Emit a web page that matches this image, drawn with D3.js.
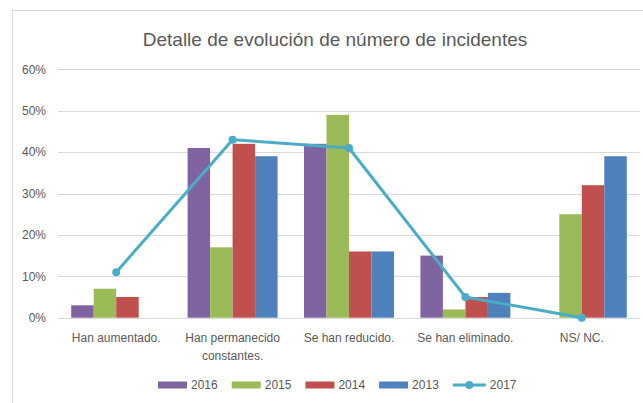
<!DOCTYPE html>
<html>
<head>
<meta charset="utf-8">
<script src="https://cdn.jsdelivr.net/npm/d3@7"></script>
<style>
  body { margin: 0; background: #fff; }
  text { font-family: "Liberation Sans", Arial, sans-serif; fill: #595959; }
</style>
</head>
<body>
<div id="chart"></div>
<script>
// Datos del gráfico
const categorias = [["Han aumentado."], ["Han permanecido", "constantes."], ["Se han reducido."], ["Se han eliminado."], ["NS/ NC."]];
const series = ["2016", "2015", "2014", "2013"];
const valores2016 = [3, 41, 42, 15, null];
const valores2015 = [7, 17, 49, 2, 25];
const valores2014 = [5, 42, 16, 5, 32];
const valores2013 = [null, 39, 16, 6, 39];
const valores2017 = [11, 43, 41, 5, 0];
const ticksY = [0, 10, 20, 30, 40, 50, 60];
const titulo = "Detalle de evolución de número de incidentes";

const barras = [valores2016, valores2015, valores2014, valores2013];
const colores = ["#8064A2", "#9BBB59", "#C0504D", "#4F81BD"];
const colorLinea = "#4BACC6";

const width = 643, height = 403;
const margin = { top: 69.3, right: 3, bottom: 85.3, left: 58 };

const svg = d3.select("#chart").append("svg")
    .attr("width", width)
    .attr("height", height);

// Borde del área del gráfico
svg.append("rect")
    .attr("x", 12.5).attr("y", 10.5)
    .attr("width", 700).attr("height", 500)
    .attr("fill", "none")
    .attr("stroke", "#D9D9D9");

svg.append("text")
    .attr("x", 335).attr("y", 46)
    .attr("text-anchor", "middle")
    .style("font-size", "19px")
    .style("font-weight", 300)
    .text(titulo);

const claves = categorias.map((c, i) => "c" + i);

const x0 = d3.scaleBand()
    .domain(claves)
    .range([margin.left, width - margin.right])
    .padding(0);

const x1 = d3.scaleBand()
    .domain(series)
    .range([0, x0.bandwidth()])
    .paddingInner(0)
    .paddingOuter(0.587);

const y = d3.scaleLinear()
    .domain([0, 60])
    .range([height - margin.bottom, margin.top]);

// Líneas de cuadrícula
svg.append("g")
    .selectAll("line")
    .data(ticksY)
    .enter().append("line")
    .attr("x1", margin.left)
    .attr("x2", width - margin.right)
    .attr("y1", d => Math.round(y(d)) + 0.5)
    .attr("y2", d => Math.round(y(d)) + 0.5)
    .attr("stroke", "#D9D9D9")
    .attr("stroke-width", 1);

// Eje Y
const ejeY = svg.append("g")
    .attr("transform", `translate(${margin.left},0)`)
    .call(d3.axisLeft(y).tickValues(ticksY).tickFormat(d => d + "%").tickSize(0).tickPadding(12));
ejeY.select(".domain").remove();
ejeY.selectAll("text").style("font-size", "12px").attr("fill", "#595959").style("font-family", null);

// Eje X (etiquetas en dos líneas)
const ejeX = svg.append("g")
    .attr("transform", `translate(0,${height - margin.bottom})`)
    .call(d3.axisBottom(x0).tickSize(0).tickFormat(""));
ejeX.select(".domain").remove();
ejeX.selectAll(".tick").each(function(d, i) {
    const t = d3.select(this).append("text")
        .attr("text-anchor", "middle")
        .attr("y", 24)
        .style("font-size", "12px");
    categorias[i].forEach((linea, j) => {
        t.append("tspan").attr("x", 0).attr("dy", j === 0 ? 0 : 18).text(linea);
    });
});

// Barras
barras.forEach((vals, s) => {
    svg.append("g")
        .selectAll("rect")
        .data(vals.map((v, i) => ({ cat: claves[i], v })).filter(d => d.v !== null))
        .enter().append("rect")
        .attr("x", d => x0(d.cat) + x1(series[s]))
        .attr("y", d => y(d.v))
        .attr("width", x1.bandwidth())
        .attr("height", d => y(0) - y(d.v))
        .attr("fill", colores[s]);
});

// Línea 2017
const puntos = valores2017.map((v, i) => ({ cat: claves[i], v }));
const linea = d3.line()
    .x(d => x0(d.cat) + x0.bandwidth() / 2)
    .y(d => y(d.v));

svg.append("path")
    .datum(puntos)
    .attr("d", linea)
    .attr("fill", "none")
    .attr("stroke", colorLinea)
    .attr("stroke-width", 3)
    .attr("stroke-linejoin", "round");

svg.append("g")
    .selectAll("circle")
    .data(puntos)
    .enter().append("circle")
    .attr("cx", d => x0(d.cat) + x0.bandwidth() / 2)
    .attr("cy", d => y(d.v))
    .attr("r", 4)
    .attr("fill", colorLinea);

// Leyenda
const leyenda = svg.append("g").attr("transform", "translate(158,385)");
const items = series.map((s, i) => ({ nombre: s, color: colores[i], tipo: "barra" }))
    .concat([{ nombre: "2017", color: colorLinea, tipo: "linea" }]);
let lx = 0;
items.forEach(it => {
    const g = leyenda.append("g").attr("transform", `translate(${lx},0)`);
    let sw = 29;
    if (it.tipo === "barra") {
        g.append("rect").attr("x", 0).attr("y", -3.5).attr("width", sw).attr("height", 7).attr("fill", it.color);
    } else {
        sw = 33;
        g.append("line").attr("x1", 0).attr("x2", sw).attr("y1", 0).attr("y2", 0)
            .attr("stroke", it.color).attr("stroke-width", 3);
        g.append("circle").attr("cx", sw / 2).attr("cy", 0).attr("r", 4).attr("fill", it.color);
    }
    const t = g.append("text")
        .attr("x", sw + 4).attr("y", 0).attr("dy", "0.35em")
        .style("font-size", "12px")
        .text(it.nombre);
    lx += sw + 4 + t.node().getComputedTextLength() + 14;
});
</script>
</body>
</html>
